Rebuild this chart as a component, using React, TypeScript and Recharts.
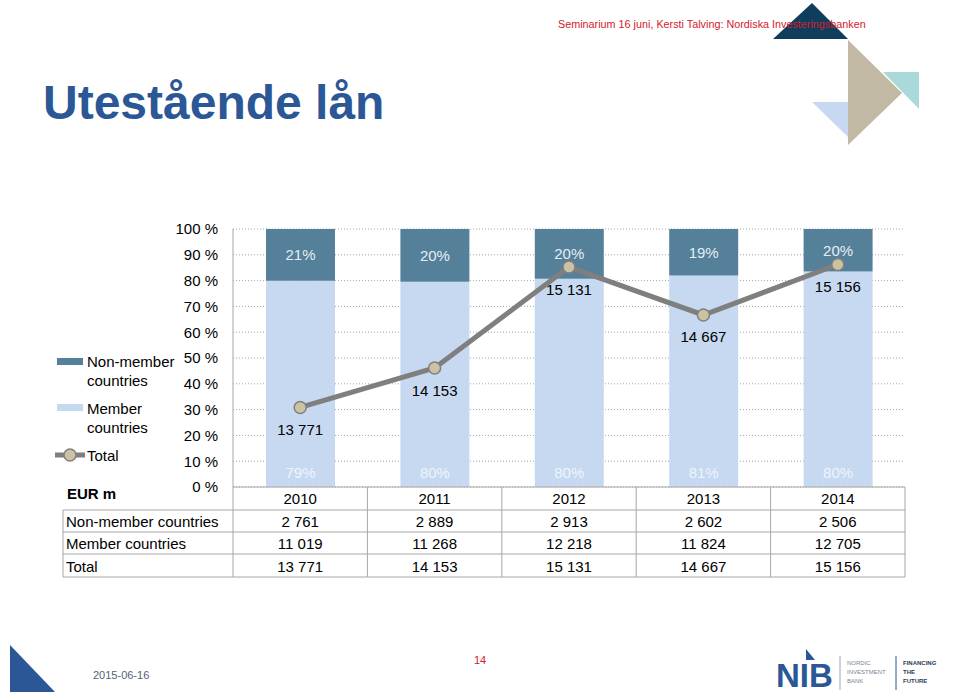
import React from 'react';
import { ComposedChart, Bar, Line, XAxis, YAxis, CartesianGrid, LabelList } from 'recharts';

const years = ['2010', '2011', '2012', '2013', '2014'];
const nonMember = [2761, 2889, 2913, 2602, 2506];
const member = [11019, 11268, 12218, 11824, 12705];
const total = [13771, 14153, 15131, 14667, 15156];
// percentages as printed on the bars of the slide
const nonMemberPctLabels = ['21%', '20%', '20%', '19%', '20%'];
const memberPctLabels = ['79%', '80%', '80%', '81%', '80%'];
const yTicks = [0, 10, 20, 30, 40, 50, 60, 70, 80, 90, 100];
const rowNames = ['Non-member countries', 'Member countries', 'Total'];

const FONT = '"Liberation Sans", Arial, sans-serif';
const NON_MEMBER_COLOR = '#55809a';
const MEMBER_COLOR = '#c6d9f1';
const LINE_COLOR = '#7f7f7f';
const DOT_COLOR = '#cbc2a4';
const GRID_COLOR = '#a6a6a6';

const PLOT_LEFT = 233;
const PLOT_RIGHT = 905;
const PLOT_BOTTOM = 487;
const BAND = (PLOT_RIGHT - PLOT_LEFT) / years.length;
const FIRST_COL = 170;
const ROW_LINES = [510, 532, 554, 577];
const ROW_CENTERS = [498, 521, 543, 566];

const fmt = (v: number) => String(v).replace(/\B(?=(\d{3})+(?!\d))/g, ' ');

const data = years.map((year, i) => ({
  year,
  memberShare: (member[i] / (member[i] + nonMember[i])) * 100,
  nonMemberShare: (nonMember[i] / (member[i] + nonMember[i])) * 100,
  total: total[i],
}));

const tableRows = [nonMember, member, total];

const TableTick = (props: any) => {
  const { x, payload } = props;
  const i = years.indexOf(payload.value);
  const left = x - BAND / 2;
  const right = x + BAND / 2;
  const txt = { fontFamily: FONT, fontSize: 15, fill: '#000' };
  return (
    <g>
      {ROW_LINES.map((y) => (
        <line key={y} x1={left} x2={right} y1={y} y2={y} stroke={GRID_COLOR} />
      ))}
      <line x1={right} x2={right} y1={PLOT_BOTTOM} y2={ROW_LINES[3]} stroke={GRID_COLOR} />
      <text x={x} y={ROW_CENTERS[0]} textAnchor="middle" dominantBaseline="central" {...txt}>
        {years[i]}
      </text>
      {tableRows.map((row, r) => (
        <text key={r} x={x} y={ROW_CENTERS[r + 1]} textAnchor="middle" dominantBaseline="central" {...txt}>
          {fmt(row[i])}
        </text>
      ))}
      {i === 0 && (
        <g>
          <line x1={left} x2={left} y1={PLOT_BOTTOM} y2={ROW_LINES[3]} stroke={GRID_COLOR} />
          <line x1={left - FIRST_COL} x2={left - FIRST_COL} y1={ROW_LINES[0]} y2={ROW_LINES[3]} stroke={GRID_COLOR} />
          {ROW_LINES.map((y) => (
            <line key={y} x1={left - FIRST_COL} x2={left} y1={y} y2={y} stroke={GRID_COLOR} />
          ))}
          <text x={left - FIRST_COL + 4} y={493} dominantBaseline="central" {...txt} fontWeight="bold">
            EUR m
          </text>
          {rowNames.map((name, r) => (
            <text key={name} x={left - FIRST_COL + 3} y={ROW_CENTERS[r + 1]} dominantBaseline="central" {...txt}>
              {name}
            </text>
          ))}
        </g>
      )}
    </g>
  );
};

const NonMemberLabel = (props: any) => {
  const { x, y, width, height, index } = props;
  return (
    <text x={x + width / 2} y={y + height / 2} textAnchor="middle" dominantBaseline="central"
      fontFamily={FONT} fontSize={15} fill="#e4edf4">
      {nonMemberPctLabels[index]}
    </text>
  );
};

const MemberLabel = (props: any) => {
  const { x, y, width, height, index } = props;
  return (
    <text x={x + width / 2} y={y + height - 15} textAnchor="middle" dominantBaseline="central"
      fontFamily={FONT} fontSize={15} fill="#eef4fc">
      {memberPctLabels[index]}
    </text>
  );
};

const TotalLabel = (props: any) => {
  const { x, y, value } = props;
  return (
    <text x={x} y={y + 22} textAnchor="middle" dominantBaseline="central"
      fontFamily={FONT} fontSize={15} fill="#000">
      {fmt(value)}
    </text>
  );
};

const Decorations = () => (
  <svg width={960} height={694} style={{ position: 'absolute', left: 0, top: 0, pointerEvents: 'none' }}>
    <polygon points="812,3 773,39 848,39" fill="#0f3d5c" />
    <polygon points="848,40 848,145 902,93" fill="#c1b9a3" />
    <polygon points="883,72 919,72 919,109" fill="#a9d9d8" />
    <polygon points="812,102 848,102 848,137" fill="#c6d9f1" />
    <text x={558} y={28} fontFamily={FONT} fontSize={10.8} fill="#d3202e">
      Seminarium 16 juni, Kersti Talving: Nordiska Investeringsbanken
    </text>
    <text x={43} y={119} fontFamily={FONT} fontSize={48} fontWeight="bold" fill="#2b5797">
      Utestående lån
    </text>

    {/* legend */}
    <rect x={57} y={358} width={26} height={7} fill={NON_MEMBER_COLOR} />
    <text x={87} y={361} dominantBaseline="central" fontFamily={FONT} fontSize={15}>Non-member</text>
    <text x={87} y={380} dominantBaseline="central" fontFamily={FONT} fontSize={15}>countries</text>
    <rect x={57} y={404} width={26} height={7} fill={MEMBER_COLOR} />
    <text x={87} y={408} dominantBaseline="central" fontFamily={FONT} fontSize={15}>Member</text>
    <text x={87} y={427} dominantBaseline="central" fontFamily={FONT} fontSize={15}>countries</text>
    <line x1={55} x2={85} y1={455} y2={455} stroke={LINE_COLOR} strokeWidth={5} />
    <circle cx={70} cy={455} r={6} fill={DOT_COLOR} stroke={LINE_COLOR} strokeWidth={1.5} />
    <text x={87} y={455} dominantBaseline="central" fontFamily={FONT} fontSize={15}>Total</text>

    {/* footer */}
    <polygon points="10,645 10,692 55,692" fill="#2b5797" />
    <text x={93} y={679} fontFamily={FONT} fontSize={11} fill="#56617a">2015-06-16</text>
    <text x={474} y={664} fontFamily={FONT} fontSize={11} fill="#d3202e">14</text>
    <polygon points="806,649 806,660 815,660" fill="#2b5797" />
    <text x={776} y={687} fontFamily={FONT} fontSize={33} fontWeight="bold" fill="#2b5797">NIB</text>
    <line x1={840} x2={840} y1={656} y2={690} stroke="#9aa3b5" />
    <text fontFamily={FONT} fontSize={6} fill="#7b8496">
      <tspan x={847} y={665}>NORDIC</tspan>
      <tspan x={847} y={674}>INVESTMENT</tspan>
      <tspan x={847} y={683}>BANK</tspan>
    </text>
    <line x1={896} x2={896} y1={656} y2={690} stroke="#2b5797" />
    <text fontFamily={FONT} fontSize={6} fontWeight="bold" fill="#2b3a55">
      <tspan x={903} y={665}>FINANCING</tspan>
      <tspan x={903} y={674}>THE</tspan>
      <tspan x={903} y={683}>FUTURE</tspan>
    </text>
  </svg>
);

export default function App() {
  return (
    <div style={{ position: 'absolute', left: 0, top: 0, width: 960, height: 694, background: '#fff', fontFamily: FONT }}>
      <ComposedChart
        width={960}
        height={694}
        data={data}
        margin={{ top: 229, right: 55, bottom: 117, left: 173 }}
        barCategoryGap="24%"
      >
        <CartesianGrid vertical={false} yAxisId="left" stroke={GRID_COLOR} strokeDasharray="1 2" />
        <XAxis
          dataKey="year"
          height={90}
          interval={0}
          tickLine={false}
          axisLine={{ stroke: GRID_COLOR }}
          tick={<TableTick />}
        />
        <YAxis
          yAxisId="left"
          width={60}
          domain={[0, 100]}
          ticks={yTicks}
          tickFormatter={(v: number) => `${v} %`}
          tickLine={false}
          tickMargin={9}
          axisLine={{ stroke: GRID_COLOR }}
          tick={{ fontSize: 15, fill: '#000', fontFamily: FONT }}
        />
        <YAxis yAxisId="right" orientation="right" hide domain={[13000, 15500]} />
        <Bar yAxisId="left" dataKey="memberShare" stackId="a" fill={MEMBER_COLOR} barSize={69} isAnimationActive={false}>
          <LabelList dataKey="memberShare" content={<MemberLabel />} />
        </Bar>
        <Bar yAxisId="left" dataKey="nonMemberShare" stackId="a" fill={NON_MEMBER_COLOR} barSize={69} isAnimationActive={false}>
          <LabelList dataKey="nonMemberShare" content={<NonMemberLabel />} />
        </Bar>
        <Line
          yAxisId="right"
          dataKey="total"
          stroke={LINE_COLOR}
          strokeWidth={5}
          dot={{ r: 6, fill: DOT_COLOR, stroke: LINE_COLOR, strokeWidth: 1.5 }}
          isAnimationActive={false}
        >
          <LabelList dataKey="total" content={<TotalLabel />} />
        </Line>
      </ComposedChart>
      <Decorations />
    </div>
  );
}
